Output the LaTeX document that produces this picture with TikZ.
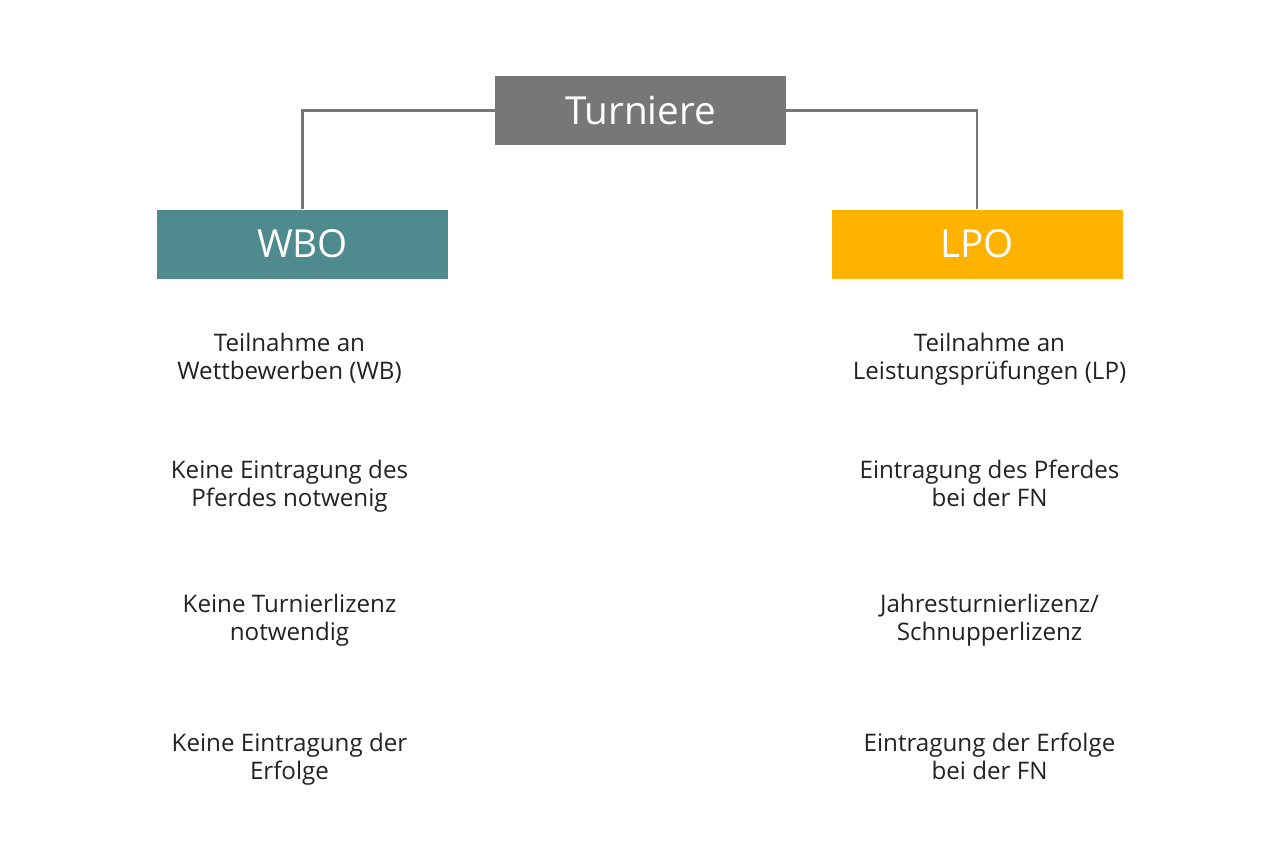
\documentclass[tikz,border=0pt]{standalone}
\usepackage{fontspec}
\setmainfont{Open Sans}
\usetikzlibrary{positioning}
\definecolor{boxgray}{HTML}{777777}
\definecolor{wbocol}{HTML}{4E8A8E}
\definecolor{lpocol}{HTML}{FDB300}
\definecolor{textcol}{HTML}{222222}
\tikzset{
    head/.style={minimum width=5.82cm, minimum height=1.38cm, inner sep=0pt, text=white, font=\fontsize{22}{26}\selectfont},
    item/.style={align=center, anchor=base, text=textcol, font=\fontsize{13.75}{15.9}\selectfont},
    link/.style={draw=boxgray, line width=1.2pt}
}
\begin{document}
\begin{tikzpicture}
        \useasboundingbox (0, 0) rectangle (25.6, -17.06);
        \node[head, fill=boxgray] (turn) at (12.81, -2.21) {Turniere};
        \node[head, fill=wbocol] (wbo) at (6.05, -4.88) {WBO};
        \node[head, fill=lpocol] (lpo) at (19.54, -4.88) {LPO};

        \draw[link] (turn.west) -| (wbo.north);
        \draw[link] (turn.east) -| (lpo.north);

        \node[item] (w1) at (5.79, -7.58) {Teilnahme an\\Wettbewerben (WB)};
        \node[item] (w2) at (5.79, -10.12) {Keine Eintragung des\\Pferdes notwenig};
        \node[item] (w3) at (5.79, -12.80) {Keine Turnierlizenz\\notwendig};
        \node[item] (w4) at (5.79, -15.58) {Keine Eintragung der\\Erfolge};

        \node[item] (l1) at (19.79, -7.58) {Teilnahme an\\Leistungsprüfungen (LP)};
        \node[item] (l2) at (19.79, -10.12) {Eintragung des Pferdes\\bei der FN};
        \node[item] (l3) at (19.79, -12.80) {Jahresturnierlizenz/\\Schnupperlizenz};
        \node[item] (l4) at (19.79, -15.58) {Eintragung der Erfolge\\bei der FN};
    \end{tikzpicture}
\end{document}
